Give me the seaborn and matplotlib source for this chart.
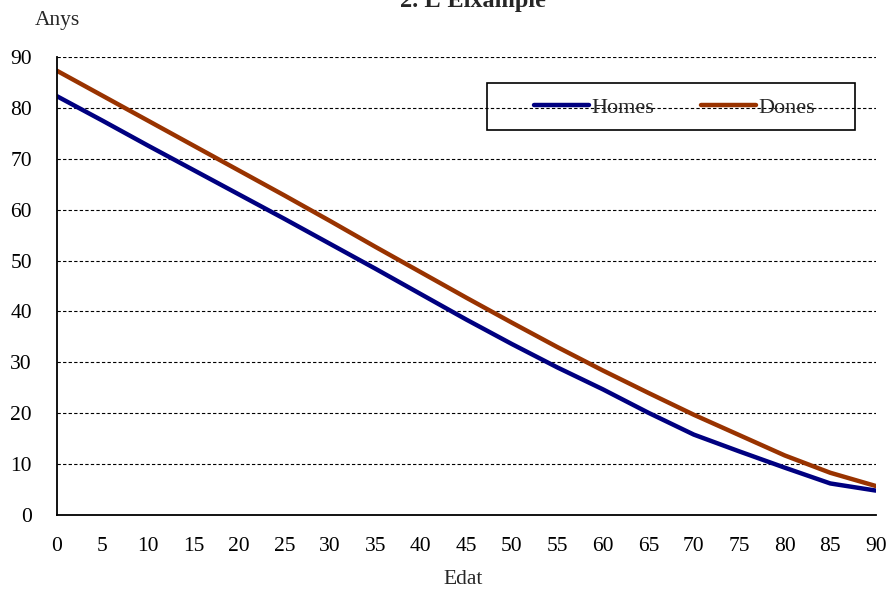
import numpy as np
import pandas as pd
import matplotlib
matplotlib.use('Agg')
import matplotlib.pyplot as plt
import matplotlib.patches as patches
import seaborn as sns

# Esperança de vida per edat - L'Eixample
edat = [0, 5, 10, 15, 20, 25, 30, 35, 40, 45, 50, 55, 60, 65, 70, 75, 80, 85, 90]
homes = [82.3, 77.5, 72.6, 67.8, 63.0, 58.2, 53.3, 48.4, 43.4, 38.4, 33.6, 29.0, 24.7, 20.1, 15.8, 12.5, 9.3, 6.2, 4.8]
dones = [87.3, 82.4, 77.5, 72.6, 67.7, 62.8, 57.8, 52.7, 47.7, 42.7, 37.8, 33.0, 28.4, 24.0, 19.7, 15.7, 11.7, 8.3, 5.7]
series = ['Homes', 'Dones']
colors = {'Homes': '#000080', 'Dones': '#993300'}

df = pd.DataFrame({'Edat': edat * 2,
                   'Anys': homes + dones,
                   'Sexe': ['Homes'] * len(edat) + ['Dones'] * len(edat)})

sns.set_style('white')
plt.rcParams['font.family'] = ['Liberation Serif', 'DejaVu Serif']

fig = plt.figure(figsize=(8.9, 5.94), dpi=100)
ax = fig.add_axes([0.064, 0.133, 0.920, 0.771])

sns.lineplot(data=df, x='Edat', y='Anys', hue='Sexe', hue_order=series,
             palette=colors, linewidth=3.2, ax=ax, legend=False)

ax.set_xlim(0, 90)
ax.set_ylim(0, 90)
ax.set_xticks(range(0, 91, 5))
ax.set_yticks(range(0, 91, 10))
ax.tick_params(axis='both', labelsize=15.5, direction='out', length=6.5, width=1.5,
               colors='black')
ax.tick_params(axis='y', pad=11.5)
ax.tick_params(axis='x', pad=9)
for y in range(10, 91, 10):
    ax.axhline(y, color='black', linestyle=(0, (3, 2)), linewidth=0.8, zorder=0)
for s in ['top', 'right']:
    ax.spines[s].set_visible(False)
for s in ['left', 'bottom']:
    ax.spines[s].set_color('black')
    ax.spines[s].set_linewidth(1.3)
ax.set_xlabel('')
ax.set_ylabel('')

fig.text(0.531, 1 - 7 / 594, "2. L'Eixample", ha='center', va='baseline', fontsize=17.5,
         fontweight='bold')
fig.text(0.065, 1 - 20 / 594, 'Anys', ha='center', va='center', fontsize=15.5)
fig.text(0.52, 1 - 580 / 594, 'Edat', ha='center', va='center', fontsize=15.5)

# llegenda
handles = [plt.Line2D([], [], color=colors[s], linewidth=3.2) for s in series]
ax.legend(handles, series, loc='center', bbox_to_anchor=(0.754, 0.890),
          ncol=2, frameon=False, fontsize=16, handlelength=2.5,
          handletextpad=0.1, columnspacing=2.1)
ax.add_patch(patches.Rectangle((0.525, 0.840), 0.450, 0.103, transform=ax.transAxes,
                               fill=False, edgecolor='black', linewidth=1.2,
                               clip_on=False, zorder=5))

fig.savefig('out.png', dpi=100)
